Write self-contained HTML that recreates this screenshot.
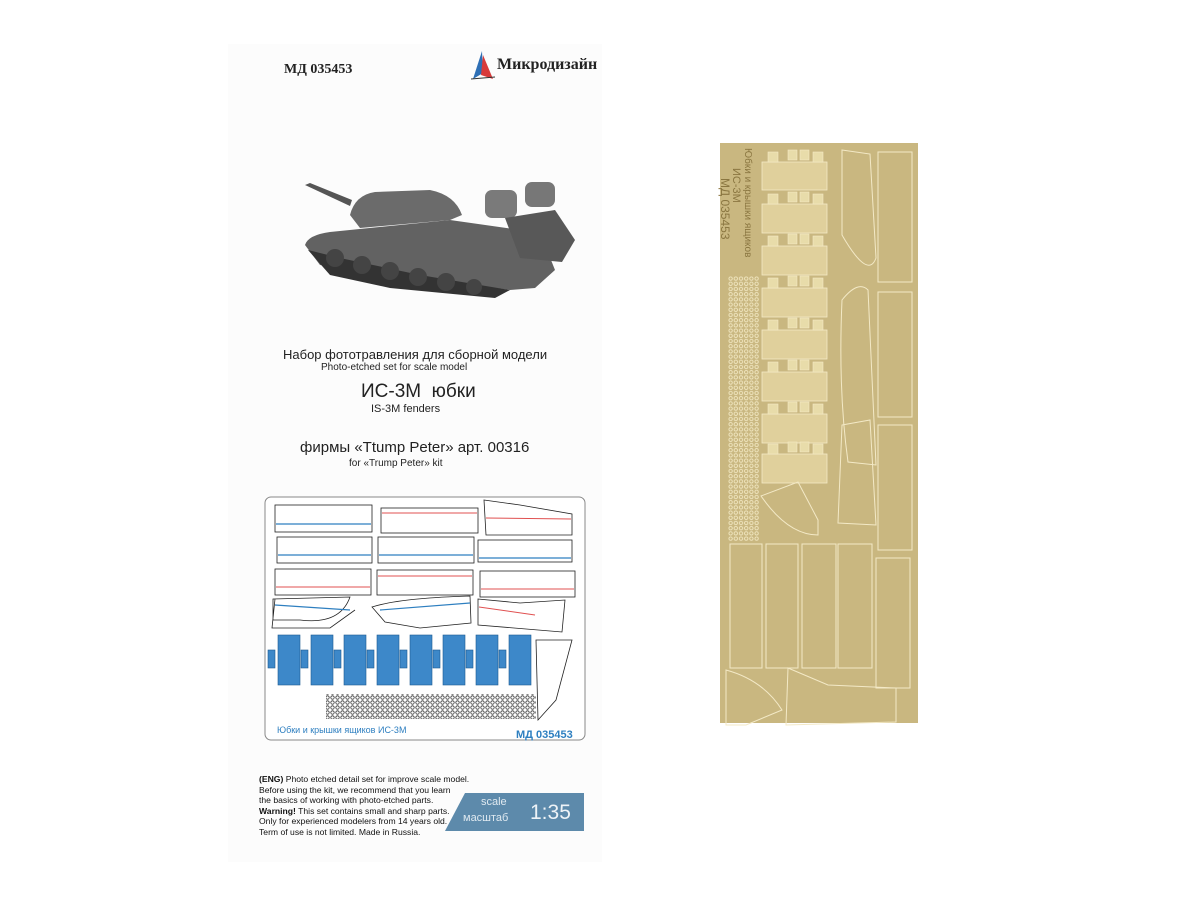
<!DOCTYPE html>
<html><head><meta charset="utf-8"><style>
html,body{margin:0;padding:0;background:#fff;}
body{width:1200px;height:900px;position:relative;overflow:hidden;font-family:"Liberation Sans","Noto Sans CJK SC",sans-serif;}
.t{position:absolute;white-space:nowrap;color:#222;}
</style></head><body>
<div style="position:absolute;left:228px;top:44px;width:374px;height:818px;background:#fcfcfc;"></div>
<div class="t" style="left:284px;top:62px;font-size:14px;font-weight:bold;font-family:'Liberation Serif',serif;">МД 035453</div>
<svg style="position:absolute;left:469px;top:49px" width="28" height="32"><polygon points="13,2 4,30 14,24" fill="#2e6fb5"/><polygon points="14,6 24,30 12,26" fill="#d83a3a"/><line x1="2" y1="30" x2="26" y2="28" stroke="#333" stroke-width="1"/></svg>
<div class="t" style="left:497px;top:56px;font-size:16px;font-weight:bold;font-family:'Liberation Serif',serif;">Микродизайн</div>
<!-- tank -->
<svg style="position:absolute;left:300px;top:140px" width="290" height="160">
<polygon points="5,45 10,43 52,60 50,66" fill="#555"/>
<path d="M50,75 Q55,55 75,52 L130,50 Q155,55 162,75 L150,80 L60,88 Z" fill="#6b6b6b"/>
<path d="M5,105 Q8,95 30,92 L150,80 L220,90 L245,105 L255,130 L235,148 L210,150 L100,135 L20,125 Z" fill="#626262"/>
<path d="M8,110 L40,118 L120,135 L210,150 L195,158 L90,148 L30,135 Z" fill="#333"/>
<g fill="#444"><circle cx="35" cy="118" r="9"/><circle cx="62" cy="125" r="9"/><circle cx="90" cy="131" r="9"/><circle cx="118" cy="137" r="9"/><circle cx="146" cy="142" r="9"/><circle cx="174" cy="147" r="8"/></g>
<rect x="185" y="50" width="32" height="28" rx="7" fill="#7a7a7a"/>
<rect x="225" y="42" width="30" height="25" rx="7" fill="#777"/>
<polygon points="205,78 255,70 275,100 262,122 220,118" fill="#585858"/>
</svg>
<div class="t" style="left:283px;top:347px;font-size:13px;">Набор фототравления для сборной модели</div>
<div class="t" style="left:321px;top:362px;font-size:10px;">Photo-etched set for scale model</div>
<div class="t" style="left:361px;top:381px;font-size:19px;">ИС-3М&nbsp; юбки</div>
<div class="t" style="left:371px;top:403px;font-size:11px;">IS-3M fenders</div>
<div class="t" style="left:300px;top:439px;font-size:15px;">фирмы «Ttump Peter» арт. 00316</div>
<div class="t" style="left:349px;top:458px;font-size:10px;">for «Trump Peter» kit</div>
<!-- diagram -->
<svg style="position:absolute;left:0;top:0" width="600" height="760">
<defs>
<pattern id="dots" x="0" y="0" width="5" height="5" patternUnits="userSpaceOnUse"><circle cx="2.5" cy="2.5" r="1.7" fill="none" stroke="#333" stroke-width="0.8"/></pattern>
</defs>
<rect x="265" y="497" width="320" height="243" rx="6" fill="#fff" stroke="#888" stroke-width="1"/>
<g fill="#fff" stroke="#222" stroke-width="0.8">
<rect x="275" y="505" width="97" height="27"/><rect x="381" y="508" width="97" height="25"/>
<polygon points="484,500 520,505 572,514 572,535 486,535"/>
<rect x="277" y="537" width="95" height="26"/><rect x="378" y="537" width="96" height="26"/><rect x="478" y="540" width="94" height="22"/>
<rect x="275" y="569" width="96" height="26"/><rect x="377" y="570" width="96" height="25"/><rect x="480" y="571" width="95" height="26"/>
<path d="M273,599 L350,597 Q340,625 300,620 L273,620 Z M275,599 L272,628 L330,628 L355,610"/>
<path d="M372,607 Q400,598 470,596 L471,623 L420,628 L385,622 Z"/>
<polygon points="478,599 520,603 565,600 562,632 478,625"/>
<path d="M536,640 L572,640 L556,700 L538,720 Z"/>
</g>
<g stroke="#2e7fc0" stroke-width="1.2"><line x1="276" y1="524" x2="371" y2="524"/><line x1="278" y1="555" x2="371" y2="555"/><line x1="379" y1="555" x2="473" y2="555"/><line x1="479" y1="558" x2="571" y2="558"/><line x1="275" y1="605" x2="350" y2="610"/><line x1="380" y1="610" x2="470" y2="603"/></g>
<g stroke="#e05050" stroke-width="1"><line x1="382" y1="513" x2="477" y2="513"/><line x1="486" y1="518" x2="571" y2="519"/><line x1="276" y1="587" x2="370" y2="587"/><line x1="378" y1="576" x2="472" y2="576"/><line x1="481" y1="589" x2="574" y2="589"/><line x1="479" y1="607" x2="535" y2="615"/></g>
<g fill="#3d88c9" stroke="#1d5a90" stroke-width="0.6">
<rect x="278" y="635" width="22" height="50"/><rect x="311" y="635" width="22" height="50"/><rect x="344" y="635" width="22" height="50"/><rect x="377" y="635" width="22" height="50"/><rect x="410" y="635" width="22" height="50"/><rect x="443" y="635" width="22" height="50"/><rect x="476" y="635" width="22" height="50"/><rect x="509" y="635" width="22" height="50"/>
<rect x="268" y="650" width="7" height="18"/><rect x="301" y="650" width="7" height="18"/><rect x="334" y="650" width="7" height="18"/><rect x="367" y="650" width="7" height="18"/><rect x="400" y="650" width="7" height="18"/><rect x="433" y="650" width="7" height="18"/><rect x="466" y="650" width="7" height="18"/><rect x="499" y="650" width="7" height="18"/>
</g>
<rect x="326" y="694" width="210" height="25" fill="url(#dots)"/>
</svg>
<div class="t" style="left:277px;top:725px;font-size:9px;color:#2e7fc0;">Юбки и крышки ящиков ИС-3М</div>
<div class="t" style="left:516px;top:729px;font-size:11px;font-weight:bold;color:#2e7fc0;">МД 035453</div>
<div class="t" style="left:259px;top:774px;font-size:8.6px;line-height:10.5px;color:#111;"><b>(ENG)</b> Photo etched detail set for improve scale model.<br>Before using the kit, we recommend that you learn<br>the basics of working with photo-etched parts.<br><b>Warning!</b> This set contains small and sharp parts.<br>Only for experienced modelers from 14 years old.<br>Term of use is not limited. Made in Russia.</div>
<svg style="position:absolute;left:445px;top:793px" width="139" height="38"><polygon points="20,0 139,0 139,38 0,38" fill="#5d8aab"/></svg>
<div class="t" style="left:481px;top:796px;font-size:11px;color:#dfe9f0;">scale</div>
<div class="t" style="left:463px;top:812px;font-size:11px;color:#dfe9f0;">масштаб</div>
<div class="t" style="left:530px;top:801px;font-size:21px;color:#eef3f7;">1:35</div>
<!-- fret -->
<svg style="position:absolute;left:718px;top:140px" width="205" height="590">
<defs>
<pattern id="fd" x="10" y="136" width="5.2" height="5.2" patternUnits="userSpaceOnUse"><circle cx="2.6" cy="2.6" r="1.7" fill="none" stroke="#f0e6c0" stroke-width="0.9"/></pattern>
</defs>
<rect x="2" y="3" width="198" height="580" fill="#c9b780"/>
<g fill="#e0d09c" stroke="#f3e9c6" stroke-width="0.8">
<rect x="44" y="22" width="65" height="28"/><rect x="44" y="64" width="65" height="29"/><rect x="44" y="106" width="65" height="29"/><rect x="44" y="148" width="65" height="29"/><rect x="44" y="190" width="65" height="29"/><rect x="44" y="232" width="65" height="29"/><rect x="44" y="274" width="65" height="29"/><rect x="44" y="314" width="65" height="29"/>
</g>
<g fill="#e8dcaa" stroke="#f3e9c6" stroke-width="0.6">
<rect x="50" y="12" width="10" height="10"/><rect x="70" y="10" width="9" height="10"/><rect x="82" y="10" width="9" height="10"/><rect x="95" y="12" width="10" height="10"/>
<rect x="50" y="54" width="10" height="10"/><rect x="70" y="52" width="9" height="10"/><rect x="82" y="52" width="9" height="10"/><rect x="95" y="54" width="10" height="10"/>
<rect x="50" y="96" width="10" height="10"/><rect x="70" y="94" width="9" height="10"/><rect x="82" y="94" width="9" height="10"/><rect x="95" y="96" width="10" height="10"/>
<rect x="50" y="138" width="10" height="10"/><rect x="70" y="136" width="9" height="10"/><rect x="82" y="136" width="9" height="10"/><rect x="95" y="138" width="10" height="10"/>
<rect x="50" y="180" width="10" height="10"/><rect x="70" y="178" width="9" height="10"/><rect x="82" y="178" width="9" height="10"/><rect x="95" y="180" width="10" height="10"/>
<rect x="50" y="222" width="10" height="10"/><rect x="70" y="220" width="9" height="10"/><rect x="82" y="220" width="9" height="10"/><rect x="95" y="222" width="10" height="10"/>
<rect x="50" y="264" width="10" height="10"/><rect x="70" y="262" width="9" height="10"/><rect x="82" y="262" width="9" height="10"/><rect x="95" y="264" width="10" height="10"/>
<rect x="50" y="304" width="10" height="10"/><rect x="70" y="302" width="9" height="10"/><rect x="82" y="302" width="9" height="10"/><rect x="95" y="304" width="10" height="10"/>
</g>
<g fill="none" stroke="#f3e9c6" stroke-width="1">
<path d="M124,10 L152,14 L158,118 Q150,140 124,95 Z"/>
<path d="M124,160 Q140,140 150,150 L158,325 L130,322 Q120,250 124,160 Z"/>
<path d="M124,285 L152,280 L158,385 L120,383 Z"/>
<rect x="160" y="12" width="34" height="130"/><rect x="160" y="152" width="34" height="125"/><rect x="160" y="285" width="34" height="125"/><rect x="158" y="418" width="34" height="130"/>
<rect x="12" y="404" width="32" height="124"/><rect x="48" y="404" width="32" height="124"/><rect x="84" y="404" width="34" height="124"/><rect x="120" y="404" width="34" height="124"/>
<path d="M43,356 L80,342 L100,380 L100,395 Q70,395 43,356 Z"/>
<path d="M8,530 Q45,540 64,570 L28,585 L8,585 Z"/>
<path d="M70,528 L110,545 L178,548 L178,582 L68,585 Z"/>
</g>
<rect x="10" y="136" width="31" height="265" fill="url(#fd)"/>
<text transform="translate(27,8) rotate(90)" font-family="Liberation Sans,sans-serif" font-size="10" fill="#8a7640">Юбки и крышки ящиков</text>
<text transform="translate(15,28) rotate(90)" font-family="Liberation Sans,sans-serif" font-size="11" fill="#8a7640">ИС-3М</text>
<text transform="translate(3,38) rotate(90)" font-family="Liberation Sans,sans-serif" font-size="12" fill="#8a7640">МД 035453</text>
</svg>
</body></html>
